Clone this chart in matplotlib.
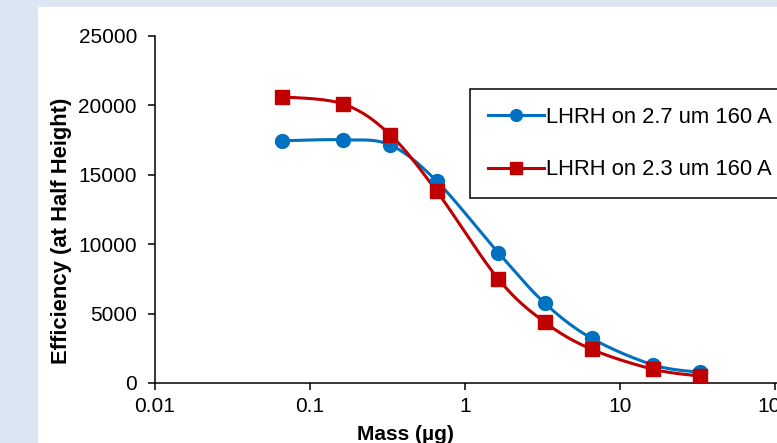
import numpy as np
import matplotlib.pyplot as plt
from matplotlib.patches import Rectangle

plt.rcParams['font.family'] = ['Liberation Sans', 'DejaVu Sans']

# --- Data ---
mass = [0.0656, 0.164, 0.328, 0.656, 1.64, 3.28, 6.56, 16.4, 32.8]
eff_27 = [17450, 17520, 17150, 14550, 9390, 5740, 3220, 1300, 770]
eff_23 = [20620, 20100, 17900, 13830, 7490, 4370, 2430, 990, 500]
labels = ['LHRH on 2.7 um 160 A', 'LHRH on 2.3 um 160 A']
blue = '#0070C0'
red = '#C00000'


def smooth(x, y, n=30):
    # Catmull-Rom curve through the points, computed in log-x / scaled-y space
    px = np.log10(x) * 155.0
    py = np.asarray(y, float) / 25000.0 * 347.0
    P = np.column_stack([px, py])
    P = np.vstack([P[0], P, P[-1]])
    out = []
    t = np.linspace(0, 1, n)[:, None]
    for i in range(1, len(P) - 2):
        p0, p1, p2, p3 = P[i - 1], P[i], P[i + 1], P[i + 2]
        seg = 0.5 * ((2 * p1) + (-p0 + p2) * t + (2 * p0 - 5 * p1 + 4 * p2 - p3) * t ** 2
                     + (-p0 + 3 * p1 - 3 * p2 + p3) * t ** 3)
        out.append(seg if i == 1 else seg[1:])
    out = np.vstack(out)
    return 10 ** (out[:, 0] / 155.0), out[:, 1] / 347.0 * 25000.0


fig = plt.figure(figsize=(7.77, 4.43), dpi=100)
fig.patch.set_facecolor('#DCE6F2')
fig.add_artist(Rectangle((38 / 777, 0), 1, 1 - 7 / 443, transform=fig.transFigure,
                         facecolor='white', edgecolor='none', zorder=0))

ax = fig.add_axes([155 / 777, 1 - 383 / 443, 622 / 777, 347 / 443])
ax.set_facecolor('none')

for yv, c, m, ms, lab in [(eff_27, blue, 'o', 10, labels[0]), (eff_23, red, 's', 9.5, labels[1])]:
    sx, sy = smooth(mass, yv)
    ax.plot(sx, sy, color=c, lw=2.2, zorder=2)
    ax.plot(mass, yv, ls='none', marker=m, ms=ms, color=c, zorder=3)
    ax.plot([], [], color=c, lw=2.2, marker=m, ms=ms * 0.85, label=lab)

ax.set_xscale('log')
ax.set_xlim(0.01, 10 ** (2 + 2 / 155))
ax.set_ylim(0, 25000)
ax.set_xticks([0.01, 0.1, 1, 10, 100])
ax.set_xticklabels(['0.01', '0.1', '1', '10', '100'])
ax.set_yticks(range(0, 25001, 5000))
ax.minorticks_off()
for s in ['top', 'right']:
    ax.spines[s].set_visible(False)
for s in ['left', 'bottom']:
    ax.spines[s].set_linewidth(1.1)
ax.tick_params(direction='out', length=5, width=1.1, labelsize=15)
ax.tick_params(axis='y', pad=8)
ax.tick_params(axis='x', pad=5)

fig.text(62 / 777, 1 - 231 / 443, 'Efficiency (at Half Height)', rotation=90,
         ha='center', va='center', fontsize=15.8, fontweight='bold')
fig.text(405 / 777, 1 - 434 / 443, 'Mass (\u00b5g)', ha='center', va='center',
         fontsize=15, fontweight='bold')

leg = fig.legend(loc='upper left', bbox_to_anchor=(470 / 777, 1 - 89 / 443),
                 borderaxespad=0, fontsize=15.8, handlelength=2.55, handletextpad=0.1,
                 labelspacing=1.45, borderpad=0.8, fancybox=False, framealpha=1)
leg.get_frame().set_edgecolor('black')
leg.get_frame().set_linewidth(1.1)

fig.savefig('out.png', dpi=100, facecolor=fig.get_facecolor())
